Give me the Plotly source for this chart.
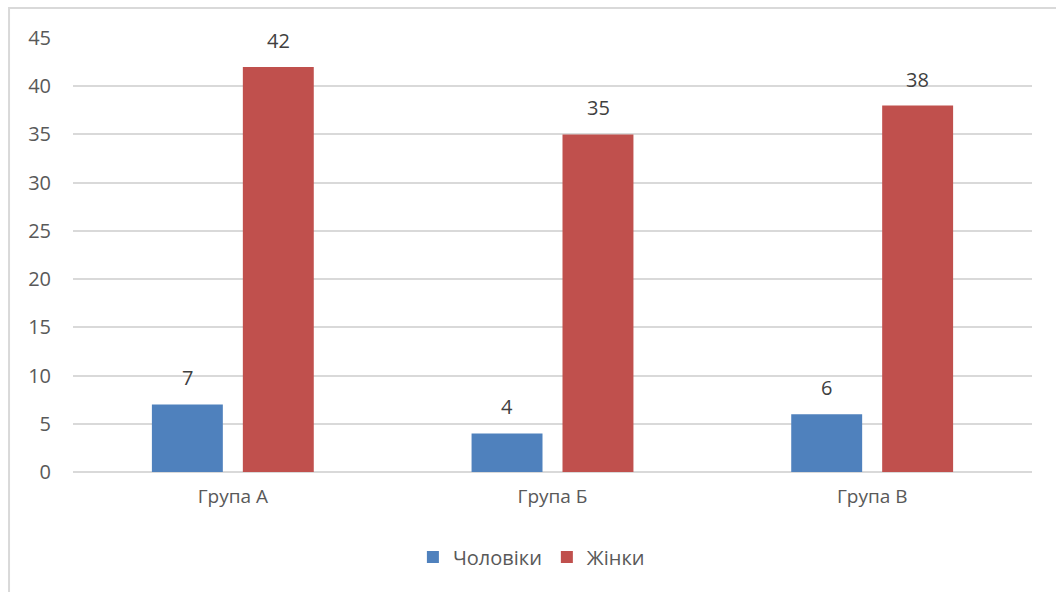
import plotly.graph_objects as go

categories = ["Група А", "Група Б", "Група В"]
men = [7, 4, 6]
women = [42, 35, 38]
series_names = ["Чоловіки", "Жінки"]
colors = ["#4F81BD", "#C0504D"]
y_ticks = [0, 5, 10, 15, 20, 25, 30, 35, 40, 45]

FONT = "Open Sans"

fig = go.Figure()
for name, vals, col in zip(series_names, [men, women], colors):
    fig.add_trace(go.Bar(
        x=categories, y=vals, name=name,
        marker=dict(color=col, line=dict(width=0)),
    ))

annotations = []
for vals, shift in zip([men, women], [-45.5, 45.5]):
    for c, v in zip(categories, vals):
        annotations.append(dict(
            x=c, y=v, xref="x", yref="y", text=str(v), showarrow=False,
            xshift=shift, yshift=11, yanchor="bottom",
            font=dict(family=FONT, size=20, color="#404040"),
        ))

fig.update_layout(
    width=1056, height=592,
    margin=dict(l=73, r=24, t=38, b=120),
    paper_bgcolor="white", plot_bgcolor="white",
    barmode="group", bargap=0.431, bargroupgap=0.22,
    font=dict(family=FONT, color="#595959", size=18),
    showlegend=True,
    legend=dict(orientation="h", x=0.478, xanchor="center", y=-0.196, yanchor="middle",
                font=dict(family=FONT, size=20, color="#595959"),
                itemwidth=30, traceorder="normal"),
    annotations=annotations,
    shapes=[dict(type="rect", xref="paper", yref="paper",
                 x0=-0.0667, x1=1.2, y0=1.069, y1=-0.5,
                 line=dict(color="#D9D9D9", width=2), layer="below")],
    xaxis=dict(showgrid=False, showline=False, zeroline=False,
               tickfont=dict(family=FONT, size=19, color="#595959"),
               ticklabelstandoff=11),
    yaxis=dict(range=[0, 45], tickvals=y_ticks, showgrid=True,
               gridcolor="#D9D9D9", gridwidth=1.5, zeroline=True,
               zerolinecolor="#D9D9D9", zerolinewidth=1.5, showline=False,
               tickfont=dict(family=FONT, size=20, color="#595959"),
               ticklabelstandoff=21),
)

fig.write_html("out.html")
